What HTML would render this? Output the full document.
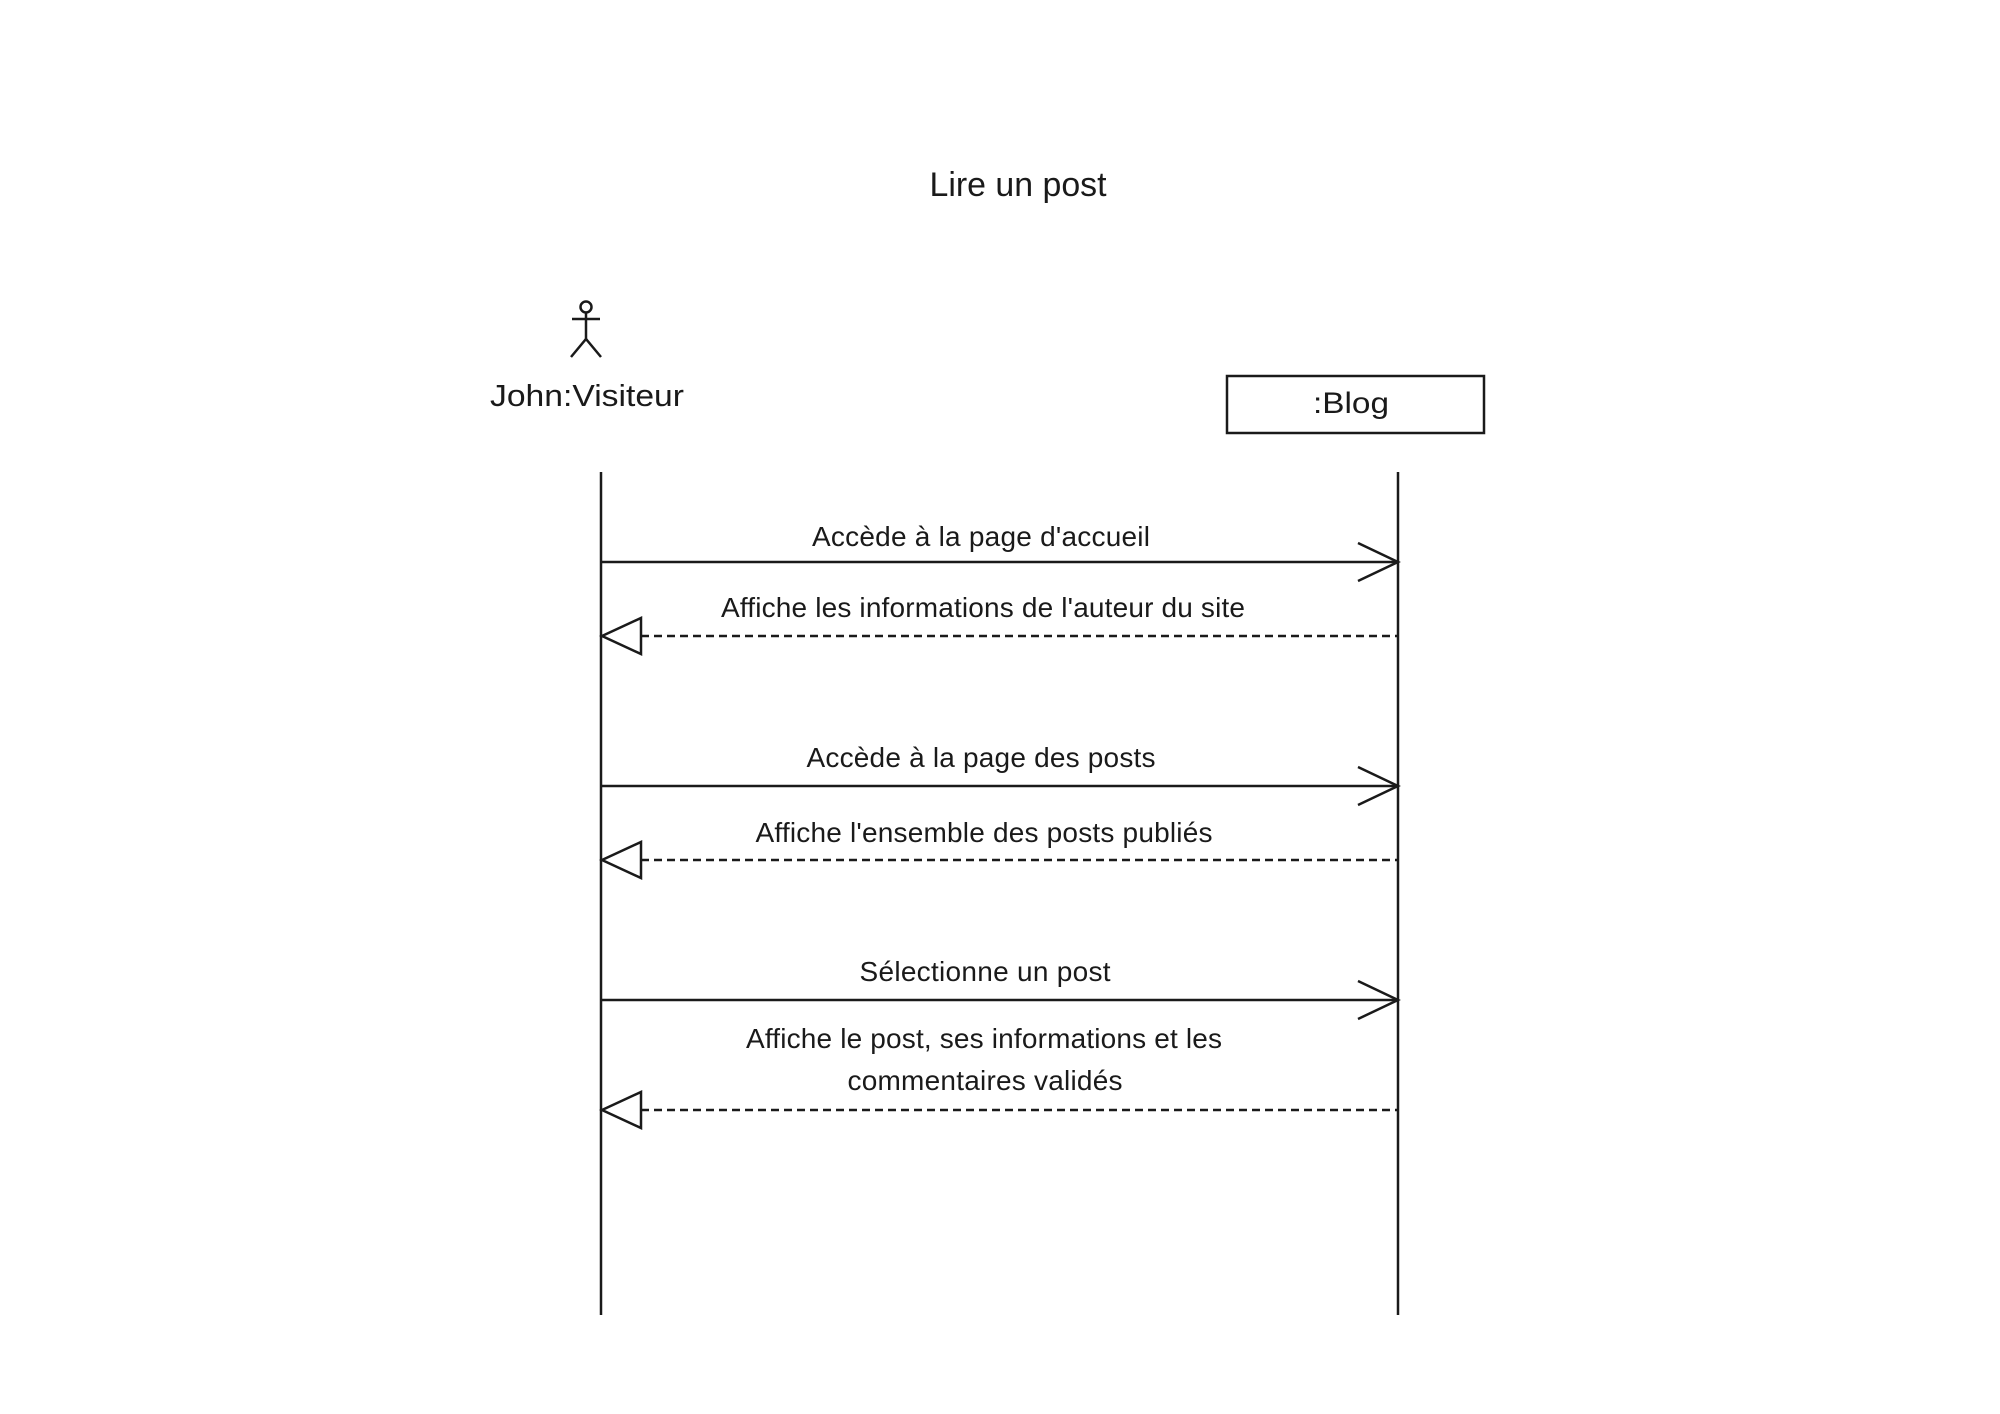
<!DOCTYPE html>
<html><head><meta charset="utf-8"><style>html,body{margin:0;padding:0;background:#fff}svg{display:block}</style></head>
<body>
<svg width="2000" height="1414" viewBox="0 0 2000 1414" xmlns="http://www.w3.org/2000/svg" font-family="Liberation Sans, Arial, sans-serif" fill="#1a1a1a">
<rect width="2000" height="1414" fill="#fff"/>
<text x="1018" y="196" font-size="34" text-anchor="middle" textLength="177" lengthAdjust="spacingAndGlyphs">Lire un post</text>
<g stroke="#1a1a1a" stroke-width="2.5" fill="none">
<circle cx="586" cy="307" r="5.5"/>
<line x1="572" y1="319" x2="600" y2="319"/>
<line x1="586" y1="313" x2="586" y2="339"/>
<polyline points="571,357 586,339 601,357"/>
<rect x="1227" y="376" width="257" height="57"/>
<line x1="601" y1="472" x2="601" y2="1315"/>
<line x1="1398" y1="472" x2="1398" y2="1315"/>
<line x1="601" y1="562" x2="1398" y2="562"/>
<polyline points="1358,543 1398,562 1358,581"/>
<line x1="641" y1="636" x2="1398" y2="636" stroke-dasharray="8,5"/>
<polygon points="602,636 641,618 641,654"/>
<line x1="601" y1="786" x2="1398" y2="786"/>
<polyline points="1358,767 1398,786 1358,805"/>
<line x1="641" y1="860" x2="1398" y2="860" stroke-dasharray="8,5"/>
<polygon points="602,860 641,842 641,878"/>
<line x1="601" y1="1000" x2="1398" y2="1000"/>
<polyline points="1358,981 1398,1000 1358,1019"/>
<line x1="641" y1="1110" x2="1398" y2="1110" stroke-dasharray="8,5"/>
<polygon points="602,1110 641,1092 641,1128"/>
</g>
<text x="587" y="406" font-size="31" text-anchor="middle" textLength="194" lengthAdjust="spacingAndGlyphs">John:Visiteur</text>
<text x="1351" y="413" font-size="30" text-anchor="middle" textLength="76" lengthAdjust="spacingAndGlyphs">:Blog</text>
<g font-size="28" text-anchor="middle" lengthAdjust="spacingAndGlyphs">
<text x="981" y="546" textLength="338">Accède à la page d'accueil</text>
<text x="983" y="617" textLength="524">Affiche les informations de l'auteur du site</text>
<text x="981" y="767" textLength="349">Accède à la page des posts</text>
<text x="984" y="842" textLength="457">Affiche l'ensemble des posts publiés</text>
<text x="985" y="981" textLength="251">Sélectionne un post</text>
<text x="984" y="1048" textLength="476">Affiche le post, ses informations et les</text>
<text x="985" y="1090" textLength="275">commentaires validés</text>
</g>
</svg>
</body></html>
